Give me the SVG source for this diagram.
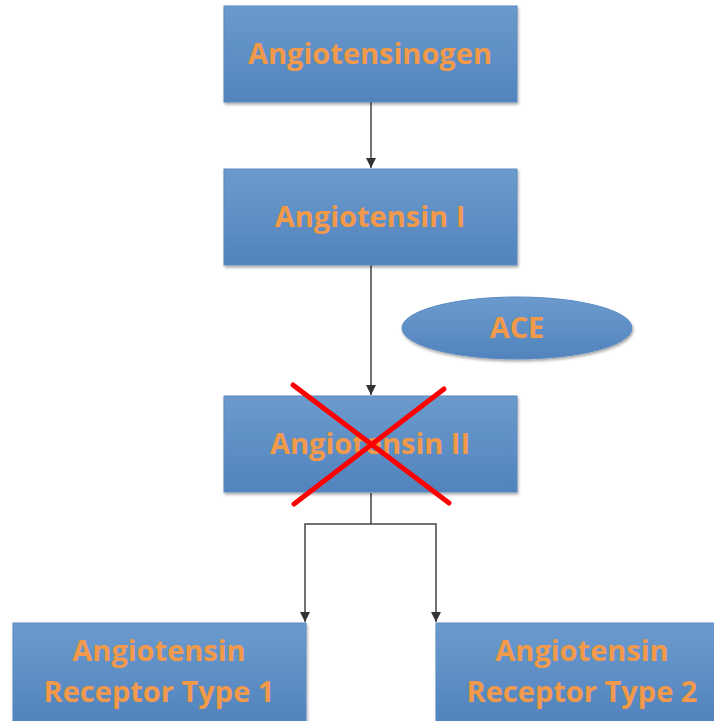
<svg xmlns="http://www.w3.org/2000/svg" width="714" height="721" viewBox="0 0 714 721">
<defs>
<linearGradient id="g" x1="0" y1="0" x2="0" y2="1">
<stop offset="0" stop-color="#6b9bcd"/>
<stop offset="1" stop-color="#5283bd"/>
</linearGradient>
<filter id="sh" x="-10%" y="-10%" width="120%" height="130%">
<feGaussianBlur in="SourceAlpha" stdDeviation="1.5"/>
<feOffset dx="1" dy="2"/>
<feComponentTransfer><feFuncA type="linear" slope="0.35"/></feComponentTransfer>
<feMerge><feMergeNode/><feMergeNode in="SourceGraphic"/></feMerge>
</filter>
<marker id="ah" markerWidth="10" markerHeight="10" refX="10" refY="5" orient="auto" markerUnits="userSpaceOnUse" viewBox="0 0 10 10">
<path d="M0,0 L10,5 L0,10 Z" fill="#333"/>
</marker>
</defs>
<style>
.box{fill:url(#g);stroke:#5b8ac2;stroke-width:1;filter:url(#sh)}
.t{font-family:"Open Sans","Liberation Sans",sans-serif;font-weight:bold;font-size:29px;fill:#f29a4a;text-anchor:middle}
.c{fill:none;stroke:#444;stroke-width:1.5}
.x{stroke:#ff0000;stroke-width:5;stroke-linecap:round}
</style>
<g id="connectors">
<line class="c" x1="371" y1="102" x2="371" y2="168" marker-end="url(#ah)"/>
<line class="c" x1="371" y1="265" x2="371" y2="395" marker-end="url(#ah)"/>
<polyline class="c" points="371,493 371,524 305,524 305,622" marker-end="url(#ah)"/>
<polyline class="c" points="371,524 436,524 436,622" marker-end="url(#ah)"/>
</g>
<g id="angiotensinogen">
<rect class="box" x="224" y="6" width="293" height="96"/>
<text class="t" x="370" y="64">Angiotensinogen</text>
</g>
<g id="angiotensin1">
<rect class="box" x="224" y="169" width="293" height="96"/>
<text class="t" x="370" y="227">Angiotensin I</text>
</g>
<g id="ace">
<ellipse class="box" cx="517" cy="328" rx="115" ry="31"/>
<text class="t" x="517" y="338">ACE</text>
</g>
<g id="angiotensin2">
<rect class="box" x="224" y="396" width="293" height="96"/>
<text class="t" x="370" y="454">Angiotensin II</text>
</g>
<g id="at1">
<rect class="box" x="13" y="623" width="293" height="100"/>
<text class="t" x="159" y="661">Angiotensin</text>
<text class="t" x="159" y="702">Receptor Type 1</text>
</g>
<g id="at2">
<rect class="box" x="436" y="623" width="293" height="100"/>
<text class="t" x="582" y="661">Angiotensin</text>
<text class="t" x="582" y="702">Receptor Type 2</text>
</g>
<g id="cross">
<line class="x" x1="293" y1="385" x2="449" y2="503"/>
<line class="x" x1="444" y1="389" x2="294" y2="504"/>
</g>
</svg>
